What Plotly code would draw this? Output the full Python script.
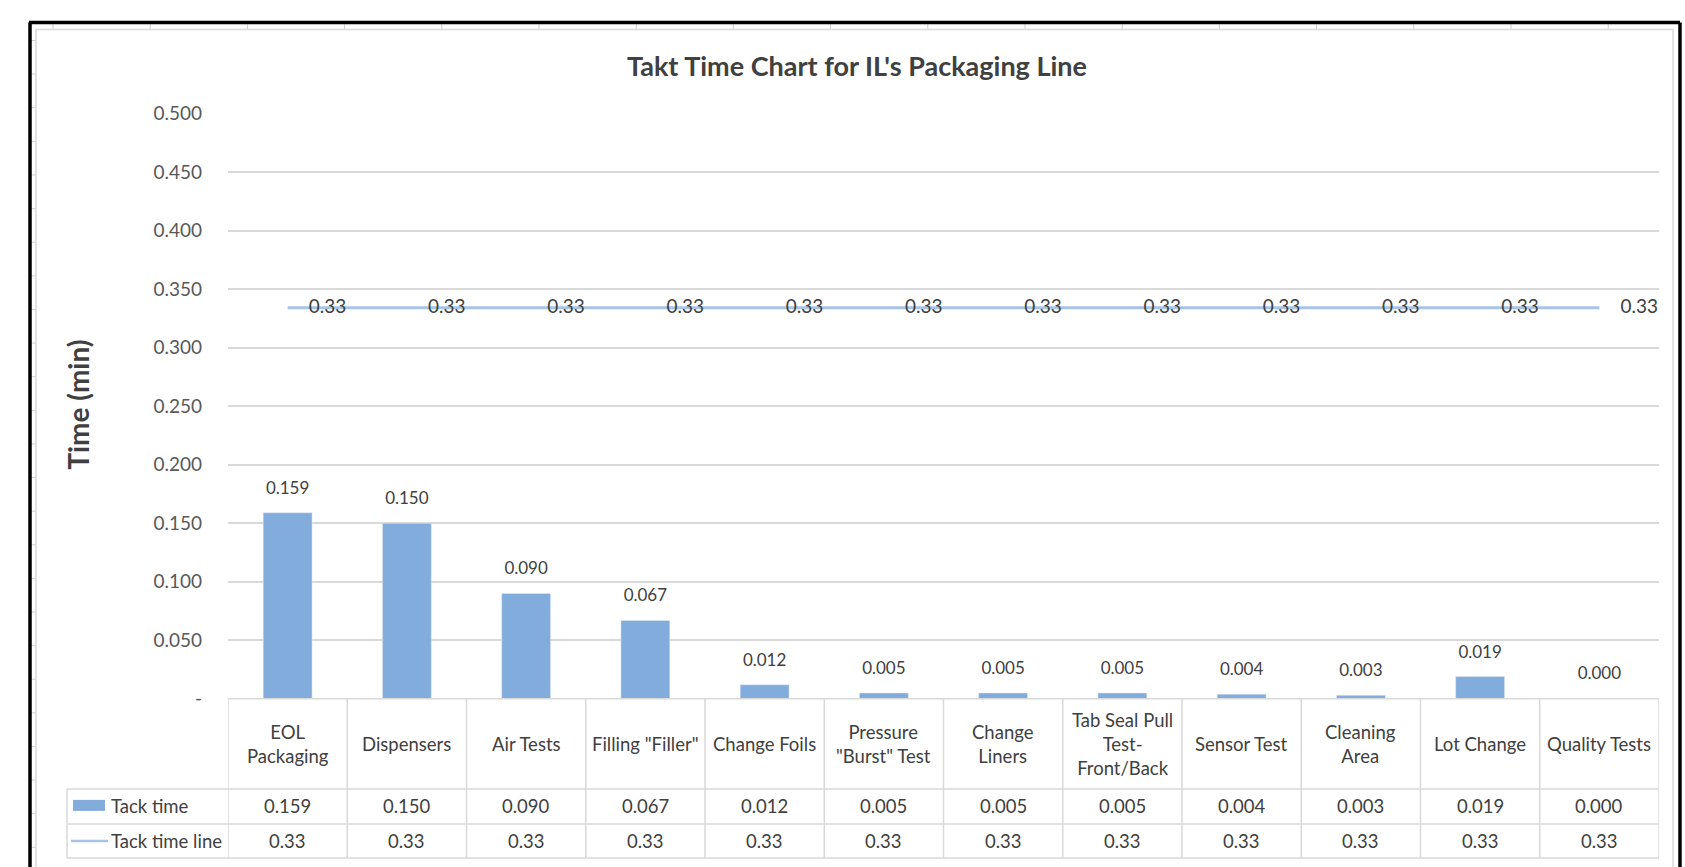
import plotly.graph_objects as go

categories = ["EOL<br>Packaging", "Dispensers", "Air Tests", "Filling \"Filler\"", "Change Foils",
              "Pressure<br>\"Burst\" Test", "Change<br>Liners", "Tab Seal Pull<br>Test-<br>Front/Back",
              "Sensor Test", "Cleaning<br>Area", "Lot Change", "Quality Tests"]
tack_time = [0.159, 0.150, 0.090, 0.067, 0.012, 0.005, 0.005, 0.005, 0.004, 0.003, 0.019, 0.0004]
tack_line = [0.334] * 12
y_ticks = [0, 0.05, 0.1, 0.15, 0.2, 0.25, 0.3, 0.35, 0.4, 0.45, 0.5]
y_tick_text = ["-", "0.050", "0.100", "0.150", "0.200", "0.250", "0.300", "0.350", "0.400", "0.450", "0.500"]
series_names = ["Tack time", "Tack time line"]
title = "Takt Time Chart for IL's Packaging Line"
y_title = "Time (min)"

W, H = 1685, 867
def px(x): return x / W
def py(y): return 1 - ((y - 11.5) / 0.973) / H

FONT = "Lato"
BAR_C = "#82ACDB"
LINE_C = "#A6C3E8"
GRID_C = "#D9D9D9"
TXT = "#404040"

X0, X1 = 228, 1659
Y0, Y1 = 698, 113
n = len(categories)
idx = list(range(n))

fig = go.Figure()
fig.add_trace(go.Bar(x=idx, y=tack_time, marker_color=BAR_C, width=0.41, name=series_names[0]))
fig.add_trace(go.Scatter(x=idx, y=tack_time, mode="markers+text",
                         marker=dict(size=22, color="rgba(0,0,0,0)"),
                         text=[f"{v:.3f}" for v in tack_time], textposition="top center",
                         textfont=dict(family=FONT, size=17, color=TXT), cliponaxis=False,
                         showlegend=False, hoverinfo="skip"))
fig.add_trace(go.Scatter(x=idx, y=tack_line, mode="lines", line=dict(color=LINE_C, width=3),
                         name=series_names[1]))
fig.add_trace(go.Scatter(x=[i + 0.335 for i in idx], y=tack_line, mode="text",
                         text=[f"{v:.2f}" for v in tack_line], textposition="middle center",
                         textfont=dict(family=FONT, size=19, color=TXT), xaxis="x2",
                         cliponaxis=False, showlegend=False))

shapes = []
ann = []
# spreadsheet cell grid peeking around the chart
for k in range(17):
    xv = 53 + 97.2 * k
    if xv < 1676:
        shapes.append(dict(type="line", xref="paper", yref="paper", x0=px(xv), x1=px(xv), y0=py(23), y1=py(29),
                           line=dict(color="#D0D0D0", width=1)))
for k in range(25):
    yv = 40 + 33.6 * k
    shapes.append(dict(type="line", xref="paper", yref="paper", x0=px(31), x1=px(36), y0=py(yv), y1=py(yv),
                       line=dict(color="#D0D0D0", width=1)))
# inner chart area border
shapes.append(dict(type="rect", xref="paper", yref="paper", x0=px(36), y0=py(29), x1=px(1673), y1=py(880),
                   line=dict(color=GRID_C, width=1.5)))
# outer black frame
for (a, b, c, d) in [(29, 22, 1680, 22), (30, 22, 30, 880), (1680, 22, 1680, 880)]:
    shapes.append(dict(type="line", xref="paper", yref="paper", x0=px(a), y0=py(b), x1=px(c), y1=py(d),
                       line=dict(color="black", width=3.5)))

# data table
T_TOP, R1, R2, T_BOT = 698, 788, 823, 857
L = 67
def hline(y, xa, xb):
    shapes.append(dict(type="line", xref="paper", yref="paper", x0=px(xa), x1=px(xb), y0=py(y), y1=py(y),
                       line=dict(color=GRID_C, width=1.5)))
hline(T_TOP, X0, X1)
for y in (R1, R2, T_BOT):
    hline(y, L, X1)
shapes.append(dict(type="line", xref="paper", yref="paper", x0=px(L), x1=px(L), y0=py(R1), y1=py(T_BOT),
                   line=dict(color=GRID_C, width=1.5)))
for i in range(n + 1):
    shapes.append(dict(type="line", xref="x", yref="paper", x0=i - 0.5, x1=i - 0.5, y0=py(T_TOP), y1=py(T_BOT),
                       line=dict(color=GRID_C, width=1.5)))
# legend keys
shapes.append(dict(type="rect", xref="paper", yref="paper", x0=px(73), x1=px(105), y0=py(810), y1=py(799),
                   fillcolor=BAR_C, line=dict(width=0)))
shapes.append(dict(type="line", xref="paper", yref="paper", x0=px(71), x1=px(108), y0=py(840), y1=py(840),
                   line=dict(color=LINE_C, width=2.5)))
TF = dict(family=FONT, size=18.5, color=TXT)
ann.append(dict(text=series_names[0], xref="paper", yref="paper", x=px(109), y=py((R1 + R2) / 2),
                xanchor="left", yanchor="middle", showarrow=False, font=TF))
ann.append(dict(text=series_names[1], xref="paper", yref="paper", x=px(109), y=py((R2 + T_BOT) / 2),
                xanchor="left", yanchor="middle", showarrow=False, font=TF))
for i, c in enumerate(categories):
    ann.append(dict(text=c, xref="x", yref="paper", x=i, y=py((T_TOP + R1) / 2), xanchor="center",
                    yanchor="middle", showarrow=False, font=TF))
    ann.append(dict(text=f"{tack_time[i]:.3f}", xref="x", yref="paper", x=i, y=py((R1 + R2) / 2),
                    xanchor="center", yanchor="middle", showarrow=False, font=TF))
    ann.append(dict(text=f"{tack_line[i]:.2f}", xref="x", yref="paper", x=i, y=py((R2 + T_BOT) / 2),
                    xanchor="center", yanchor="middle", showarrow=False, font=TF))

ann.append(dict(text=f"<b>{title}</b>", xref="paper", yref="paper", x=px(857), y=py(65), xanchor="center",
                yanchor="middle", showarrow=False, font=dict(family=FONT, size=27, color=TXT)))
ann.append(dict(text=f"<b>{y_title}</b>", xref="paper", yref="paper", x=px(78), y=py(404), xanchor="center",
                yanchor="middle", textangle=-90, showarrow=False, font=dict(family=FONT, size=28, color=TXT)))

fig.update_layout(
    width=W, height=H, margin=dict(l=0, r=0, t=0, b=0, pad=0),
    paper_bgcolor="white", plot_bgcolor="white", showlegend=False,
    xaxis=dict(domain=[px(X0), px(X1)], range=[-0.5, n - 0.5], showticklabels=False, showgrid=False,
               zeroline=False, showline=False, ticks=""),
    xaxis2=dict(overlaying="x", range=[-0.5, n - 0.5], visible=False),
    yaxis=dict(domain=[py(Y0), py(Y1)], range=[0, 0.5], tickvals=y_ticks, ticktext=y_tick_text,
               showgrid=True, gridcolor=GRID_C, gridwidth=1.5, zeroline=False, showline=False,
               ticklabelstandoff=25, tickfont=dict(family=FONT, size=19, color="#595959")),
    shapes=shapes, annotations=ann,
)
fig.write_html("out.html")
